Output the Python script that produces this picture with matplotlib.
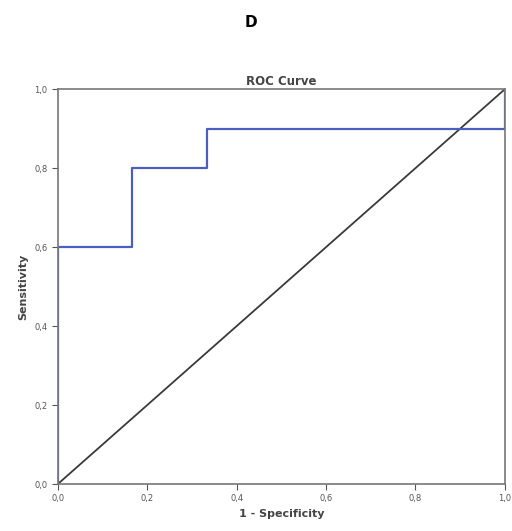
import matplotlib
matplotlib.use("Agg")
import matplotlib.pyplot as plt
from matplotlib.ticker import FuncFormatter

# ROC curve points (1 - specificity, sensitivity)
fpr = [0.0, 0.0, 0.1667, 0.1667, 0.3333, 0.3333, 1.0, 1.0]
tpr = [0.0, 0.6, 0.6, 0.8, 0.8, 0.9, 0.9, 1.0]
ref_line = [0.0, 1.0]
ticks = [0.0, 0.2, 0.4, 0.6, 0.8, 1.0]

fig = plt.figure(figsize=(5.12, 5.31), dpi=100)
ax = fig.add_axes([0.113, 0.0885, 0.873, 0.7435])

ax.plot(ref_line, ref_line, color="#3a3a3a", lw=1.3)
ax.plot(fpr, tpr, color="#4a5fc0", lw=1.6, drawstyle="default")

ax.set_xlim(0, 1)
ax.set_ylim(0, 1)
ax.set_xticks(ticks)
ax.set_yticks(ticks)
fmt = FuncFormatter(lambda v, p: f"{v:.1f}".replace(".", ","))
ax.xaxis.set_major_formatter(fmt)
ax.yaxis.set_major_formatter(fmt)
ax.tick_params(labelsize=6, colors="#555555", length=4, width=0.8)
for s in ax.spines.values():
    s.set_color("#777777")
    s.set_linewidth(1.2)

ax.set_xlabel("1 - Specificity", fontsize=8, fontweight="bold", color="#444444", labelpad=4)
ax.set_ylabel("Sensitivity", fontsize=8, fontweight="bold", color="#444444", labelpad=4)
ax.set_title("ROC Curve", fontsize=8.5, fontweight="bold", color="#444444", pad=3)

fig.text(0.49, 0.958, "D", fontsize=11, fontweight="bold", ha="center", va="center")

fig.savefig("out.png", dpi=100)
